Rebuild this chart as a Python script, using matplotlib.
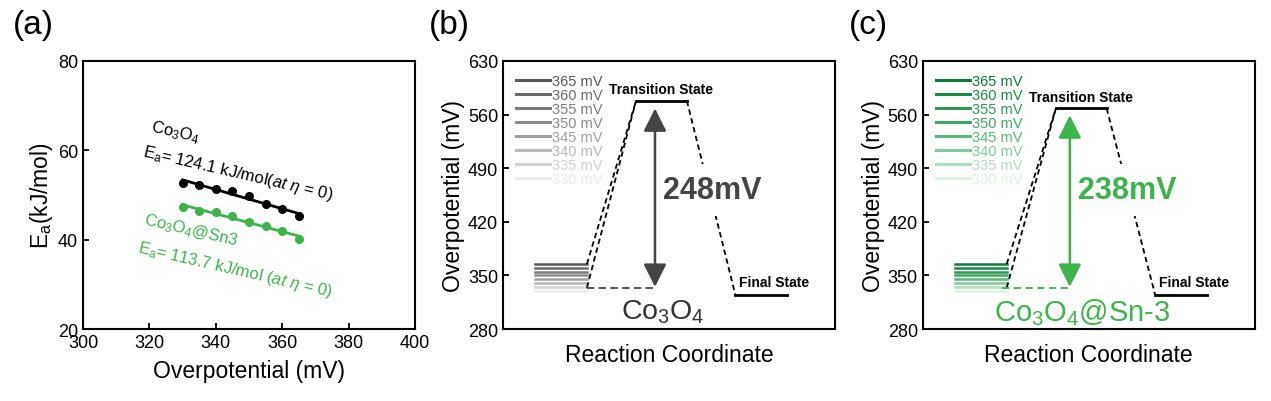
import numpy as np
import matplotlib
matplotlib.use("Agg")
import matplotlib.pyplot as plt

plt.rcParams['font.family'] = ['Liberation Sans', 'DejaVu Sans']
plt.rcParams['mathtext.fontset'] = 'custom'
plt.rcParams['mathtext.rm'] = 'Liberation Sans'
plt.rcParams['mathtext.it'] = 'Liberation Sans:italic'
plt.rcParams['mathtext.bf'] = 'Liberation Sans:bold'

# ---- data ----
eta = [330, 335, 340, 345, 350, 355, 360, 365]
ea_co3o4 = [52.7, 52.2, 51.4, 50.9, 49.7, 47.9, 46.8, 45.3]
ea_sn3 = [47.3, 46.5, 46.2, 45.3, 44.0, 43.0, 42.0, 40.1]

levels = [365, 360, 355, 350, 345, 340, 335, 330]
level_labels = ["365 mV", "360 mV", "355 mV", "350 mV", "345 mV", "340 mV", "335 mV", "330 mV"]
grays = ["#575757", "#6b6b6b", "#7a7a7a", "#8a8a8a", "#a0a0a0", "#b8b8b8", "#d2d2d2", "#ececec"]
greens = ["#0e7a3c", "#178a45", "#2a9a55", "#3ca865", "#58b87a", "#7fcb97", "#aee0bd", "#dcf3e2"]

ts_b, ts_c = 578, 568
final_state = 325
base_dashed = 334
barrier_b, barrier_c = "248mV", "238mV"
arrow_b = (335, 568)
arrow_c = (335, 559)

green = "#3bb54a"

fig = plt.figure(figsize=(12.71, 4.02), dpi=100)


def style_axes(ax):
    for s in ax.spines.values():
        s.set_linewidth(1.5)
    ax.tick_params(direction='in', length=4, width=1.3, labelsize=13,
                   top=False, right=False)


# ---- (a) ----
ax1 = fig.add_axes([0.0653, 0.179, 0.2612, 0.667])
style_axes(ax1)
for y, c in [(ea_co3o4, 'black'), (ea_sn3, green)]:
    p = np.polyfit(eta, y, 1)
    xs = np.array([eta[0], eta[-1]])
    ax1.plot(xs, np.polyval(p, xs), color=c, lw=2)
    ax1.plot(eta, y, 'o', color=c, ms=5.5, mfc=c, mec=c)
ax1.set_xlim(300, 400)
ax1.set_ylim(20, 80)
ax1.set_xticks([300, 320, 340, 360, 380, 400])
ax1.set_yticks([20, 40, 60, 80])
ax1.set_xlabel("Overpotential (mV)", fontsize=16.5, labelpad=6)
ax1.set_ylabel(r"E$_\mathrm{a}$(kJ/mol)", fontsize=16.5, labelpad=2)
ax1.text(327.7, 64.3, r"Co$_3$O$_4$", rotation=-13, fontsize=12, ha='center', va='center')
ax1.text(346.7, 54.9, r"E$_\mathrm{a}$= 124.1 kJ/mol($\mathit{at}$ $\mathit{\eta}$ = 0)",
         rotation=-13, fontsize=12, ha='center', va='center', rotation_mode='anchor')
ax1.text(332.5, 42.2, r"Co$_3$O$_4$@Sn3", rotation=-13, fontsize=12, ha='center',
         va='center', color=green, rotation_mode='anchor')
ax1.text(345.8, 33.3, r"E$_\mathrm{a}$= 113.7 kJ/mol ($\mathit{at}$ $\mathit{\eta}$ = 0)",
         rotation=-13, fontsize=12, ha='center', va='center', color=green,
         rotation_mode='anchor')
fig.text(0.01, 0.975, "(a)", fontsize=24, va='top')


# ---- (b), (c) ----
def energy_panel(left, colors, ts, arrow, barrier, name, arrow_color, name_color, letter):
    ax = fig.add_axes([left, 0.179, 0.2612, 0.667])
    style_axes(ax)
    ax.set_xlim(0, 10)
    ax.set_ylim(280, 630)
    ax.set_yticks([280, 350, 420, 490, 560, 630])
    ax.set_xticks([])
    ax.set_xlabel("Reaction Coordinate", fontsize=16.5, labelpad=10)
    ax.set_ylabel("Overpotential (mV)", fontsize=16.5, labelpad=2)

    x0, x1 = 0.97, 2.53
    ts_x0, ts_x1 = 4.01, 5.54
    fs_x0, fs_x1 = 7.0, 8.55
    ax_x = 4.58 if letter == "(b)" else 4.43

    handles = []
    for lv, lab, c in zip(levels, level_labels, colors):
        h, = ax.plot([x0, x1], [lv, lv], color=c, lw=1.8, label=lab)
        handles.append(h)
    leg = ax.legend(handles=handles, loc='upper left', frameon=False, fontsize=10.5,
                    handlelength=2.3, handletextpad=0.15, labelspacing=0.0,
                    borderaxespad=0.3, bbox_to_anchor=(0.01, 0.99))
    for t, c in zip(leg.get_texts(), colors):
        t.set_color(c)
    for ln in leg.get_lines():
        ln.set_linewidth(2.2)

    dash = dict(color='black', lw=1.3, ls=(0, (3, 2)))
    ax.plot([x1, ts_x0], [max(levels), ts], **dash)
    ax.plot([x1, ts_x0], [base_dashed, ts], **dash)
    ax.plot([ts_x1, fs_x0], [ts, final_state], **dash, zorder=1)
    ax.plot([x1 if letter == "(b)" else 2.38, ax_x], [base_dashed, base_dashed],
            color=arrow_color, lw=1.3, ls=(0, (4, 2.5)))

    ax.plot([ts_x0, ts_x1], [ts, ts], color='black', lw=2)
    ax.plot([fs_x0, fs_x1], [final_state, final_state], color='black', lw=2)
    ax.text((ts_x0 + ts_x1) / 2, ts + 15, "Transition State", fontsize=10,
            fontweight='bold', ha='center', va='center')
    ax.text(8.18, final_state + 17, "Final State", fontsize=10,
            fontweight='bold', ha='center', va='center')

    ax.annotate("", xy=(ax_x, arrow[1]), xytext=(ax_x, arrow[0]),
                arrowprops=dict(arrowstyle='<|-|>,head_length=0.7,head_width=0.35',
                                mutation_scale=20, color=arrow_color, lw=1.8,
                                shrinkA=0, shrinkB=0), zorder=5)
    ax.text(4.83 if letter == "(b)" else 4.68, 462, barrier, fontsize=22,
            fontweight='bold', color=arrow_color, ha='left', va='center',
            bbox=dict(facecolor='white', edgecolor='none', pad=8), zorder=3)
    ax.text(4.8, 303, name, fontsize=20.5 if letter == "(b)" else 21,
            color=name_color, ha='center', va='center')
    fig.text(left - 0.058, 0.975, letter, fontsize=24, va='top')
    return ax


energy_panel(0.3957, grays, ts_b, arrow_b, barrier_b, r"Co$_3$O$_4$",
             "#444444", "#333333", "(b)")
energy_panel(0.726, greens, ts_c, arrow_c, barrier_c, r"Co$_3$O$_4$@Sn-3",
             green, green, "(c)")

fig.savefig("out.png", dpi=100)
